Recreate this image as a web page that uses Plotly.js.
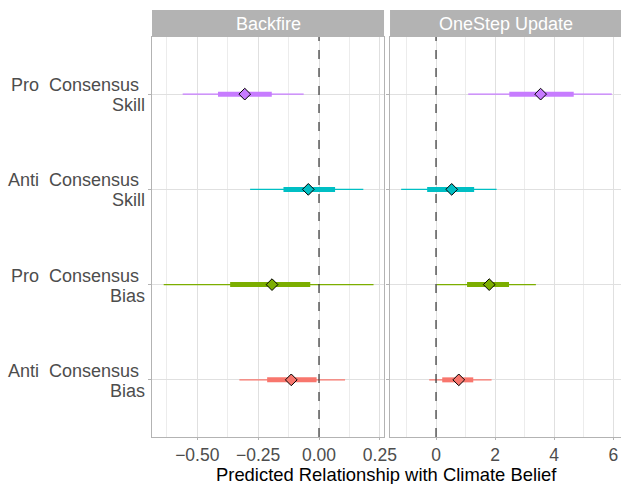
<!DOCTYPE html>
<html>
<head>
<meta charset="utf-8">
<script src="https://cdn.plot.ly/plotly-3.0.1.min.js"></script>
<style>html,body{margin:0;padding:0;background:#fff;}#chart{width:621px;height:484px;}</style>
</head>
<body>
<div id="chart"></div>
<script>
// Categories (bottom to top) and their two-line labels
var categories = ["Anti Consensus Bias", "Pro Consensus Bias", "Anti Consensus Skill", "Pro Consensus Skill"];
var labelLine1 = ["Anti\u00A0 Consensus", "Pro\u00A0 Consensus", "Anti\u00A0 Consensus", "Pro\u00A0 Consensus"];
var labelLine2 = ["Bias", "Bias", "Skill", "Skill"];
var colors = ["#F8766D", "#7CAE00", "#00BFC4", "#C77CFF"];
var panels = ["Backfire", "OneStep Update"];
var xTicksBackfire = [-0.5, -0.25, 0, 0.25];
var xTicksOnestep = [0, 2, 4, 6];

// Backfire panel estimates
var backfireEst    = [-0.114, -0.193, -0.044, -0.305];
var backfireLo95   = [-0.327, -0.638, -0.283, -0.560];
var backfireHi95   = [ 0.107,  0.224,  0.182, -0.063];
var backfireLo80   = [-0.213, -0.365, -0.146, -0.415];
var backfireHi80   = [-0.010, -0.036,  0.066, -0.194];

// OneStep Update panel estimates
var onestepEst     = [0.77, 1.80, 0.53, 3.54];
var onestepLo95    = [-0.23, 0.02, -1.18, 1.09];
var onestepHi95    = [1.88, 3.38, 2.05, 5.95];
var onestepLo80    = [0.21, 1.05, -0.30, 2.48];
var onestepHi80    = [1.26, 2.47, 1.29, 4.66];

var panelData = [
  {est: backfireEst, lo95: backfireLo95, hi95: backfireHi95, lo80: backfireLo80, hi80: backfireHi80, xa: "x", ya: "y"},
  {est: onestepEst, lo95: onestepLo95, hi95: onestepHi95, lo80: onestepLo80, hi80: onestepHi80, xa: "x2", ya: "y2"}
];

var traces = [];
panelData.forEach(function(p) {
  for (var i = 0; i < categories.length; i++) {
    var yv = i + 1;
    traces.push({x: [p.lo95[i], p.hi95[i]], y: [yv, yv], mode: "lines", xaxis: p.xa, yaxis: p.ya,
      line: {color: colors[i], width: 1.2}, hoverinfo: "skip", showlegend: false});
    traces.push({x: [p.lo80[i], p.hi80[i]], y: [yv, yv], mode: "lines", xaxis: p.xa, yaxis: p.ya,
      line: {color: colors[i], width: 5}, hoverinfo: "skip", showlegend: false});
  }
  traces.push({x: p.est, y: [1, 2, 3, 4], mode: "markers", xaxis: p.xa, yaxis: p.ya,
    marker: {symbol: "diamond", size: 9, color: colors, line: {color: "#000", width: 1}},
    showlegend: false, cliponaxis: false});
});

var FONT = "Liberation Sans, Arial, sans-serif";
var gridCol = "#E0E0E0";
var borderCol = "#B3B3B3";
var tickFont = {family: FONT, size: 17.5, color: "#4D4D4D"};

var yCommon = {range: [0.4, 4.6], tickvals: [1, 2, 3, 4], showticklabels: false, showgrid: true, gridcolor: gridCol, gridwidth: 1,
  zeroline: false, showline: true, linecolor: borderCol, linewidth: 1, mirror: true,
  ticks: "outside", ticklen: 3, tickcolor: borderCol, fixedrange: true};

var annotations = [
  {text: panels[0], xref: "paper", yref: "paper", x: 0.2474, y: 1.03375, showarrow: false, xanchor: "center", yanchor: "middle",
    font: {family: FONT, size: 18, color: "#fff"}},
  {text: panels[1], xref: "paper", yref: "paper", x: 0.7538, y: 1.03375, showarrow: false, xanchor: "center", yanchor: "middle",
    font: {family: FONT, size: 18, color: "#fff"}},
  {text: "Predicted Relationship with Climate Belief", xref: "paper", yref: "paper", x: 0.5, y: -0.0925,
    showarrow: false, xanchor: "center", yanchor: "middle",
    font: {family: FONT, size: 18.4, color: "#000"}}
];
for (var i = 0; i < categories.length; i++) {
  annotations.push({text: labelLine1[i], xref: "paper", yref: "y", x: 0, y: i + 1, xshift: -11, yshift: 9,
    showarrow: false, xanchor: "right", yanchor: "middle", font: {family: FONT, size: 18, color: "#4D4D4D"}});
  annotations.push({text: labelLine2[i], xref: "paper", yref: "y", x: 0, y: i + 1, xshift: -5, yshift: -11,
    showarrow: false, xanchor: "right", yanchor: "middle", font: {family: FONT, size: 18, color: "#4D4D4D"}});
}

var layout = {
  width: 621, height: 484,
  margin: {l: 152, r: 0, t: 37, b: 47},
  paper_bgcolor: "#fff", plot_bgcolor: "#fff",
  font: {family: FONT},
  xaxis: {domain: [0, 0.4947], range: [-0.686, 0.267], tickvals: xTicksBackfire, tickformat: ".2f",
    showgrid: true, gridcolor: gridCol, gridwidth: 1, zeroline: false,
    minor: {tickvals: [-0.625, -0.375, -0.125, 0.125], showgrid: true, gridcolor: gridCol, gridwidth: 0.6, ticks: ""},
    showline: true, linecolor: borderCol, mirror: true, ticks: "outside", ticklen: 2, tickcolor: borderCol,
    tickfont: tickFont, anchor: "y"},
  xaxis2: {domain: [0.5075, 1], range: [-1.557, 6.26], tickvals: xTicksOnestep,
    showgrid: true, gridcolor: gridCol, gridwidth: 1, zeroline: false,
    minor: {tickvals: [-1, 1, 3, 5], showgrid: true, gridcolor: gridCol, gridwidth: 0.6, ticks: ""},
    showline: true, linecolor: borderCol, mirror: true, ticks: "outside", ticklen: 2, tickcolor: borderCol,
    tickfont: tickFont, anchor: "y2"},
  yaxis: Object.assign({}, yCommon, {anchor: "x"}),
  yaxis2: Object.assign({}, yCommon, {anchor: "x2", matches: "y"}),
  shapes: [
    {type: "line", xref: "x", yref: "paper", x0: 0, x1: 0, y0: 0, y1: 1, line: {color: "#333", width: 1.2, dash: "dash"}, layer: "above"},
    {type: "line", xref: "x2", yref: "paper", x0: 0, x1: 0, y0: 0, y1: 1, line: {color: "#333", width: 1.2, dash: "dash"}, layer: "above"},
    {type: "rect", xref: "paper", yref: "paper", x0: 0, x1: 0.4947, y0: 1, y1: 1.0675, fillcolor: "#B3B3B3", line: {width: 0}},
    {type: "rect", xref: "paper", yref: "paper", x0: 0.5075, x1: 1, y0: 1, y1: 1.0675, fillcolor: "#B3B3B3", line: {width: 0}}
  ],
  annotations: annotations
};

Plotly.newPlot("chart", traces, layout, {displayModeBar: false, staticPlot: true});
</script>
</body>
</html>
